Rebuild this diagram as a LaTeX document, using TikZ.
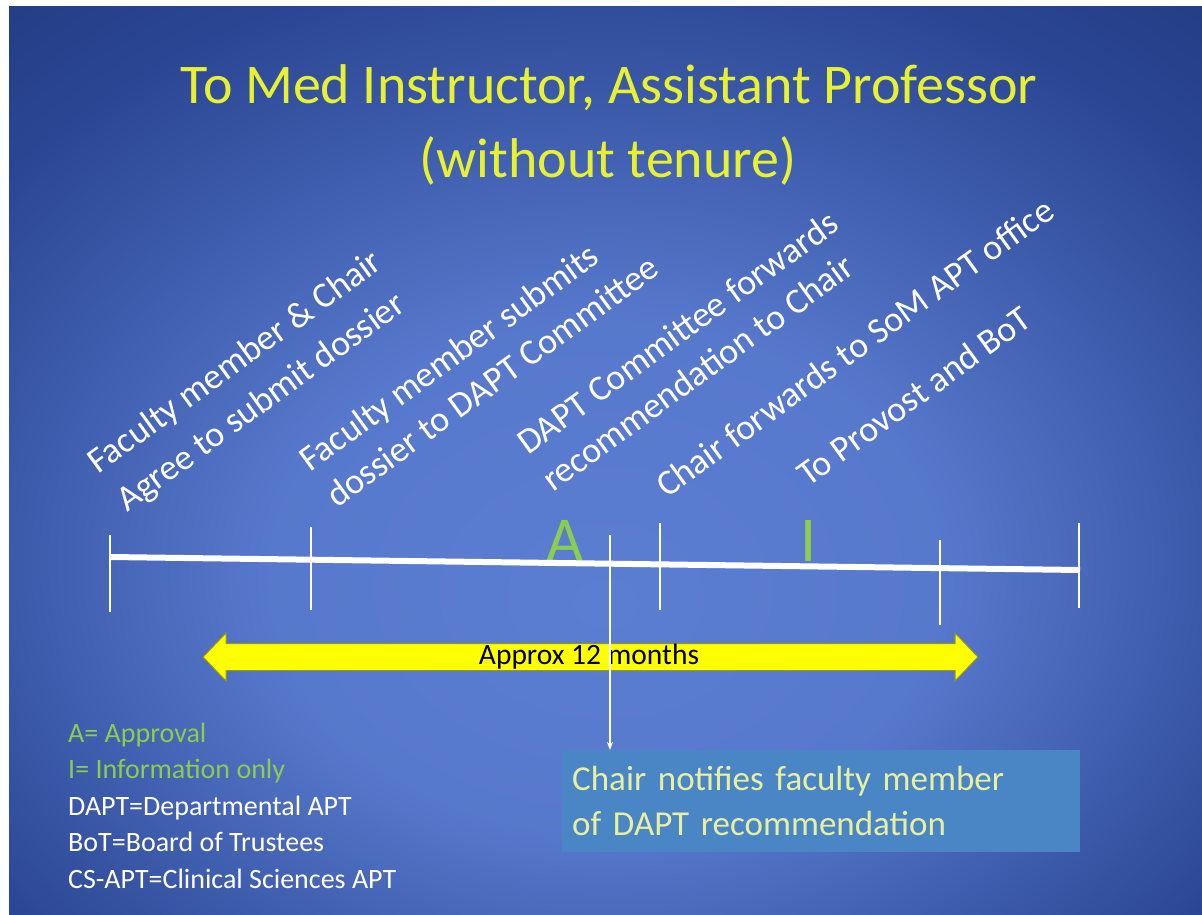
\documentclass[tikz,border=0pt]{standalone}
\usepackage{fontspec}
\setmainfont{Carlito}
\usetikzlibrary{arrows.meta}
\definecolor{bgin}{RGB}{92,126,210}
\definecolor{bgmid}{RGB}{50,80,162}
\definecolor{bgout}{RGB}{14,32,92}
\definecolor{titleyellow}{RGB}{232,240,50}
\definecolor{lgreen}{RGB}{140,205,80}
\definecolor{boxblue}{RGB}{74,134,198}
\definecolor{boxtext}{RGB}{232,240,160}
\definecolor{arrowyellow}{RGB}{255,255,0}
\definecolor{arrowedge}{RGB}{150,150,30}
\pgfdeclareradialshading{slidebg}{\pgfpoint{0bp}{-8bp}}{color(0bp)=(bgin); color(14bp)=(bgin!88!bgmid); color(32bp)=(bgmid!80!bgout); color(50bp)=(bgout!75!bgmid); color(72bp)=(bgout)}
\begin{document}
\begin{tikzpicture}[x=1pt,y=-1pt,
  lbl/.style={text=white, font=\fontsize{36}{43}\selectfont, rotate=36, anchor=base west, inner sep=0pt},
  tickline/.style={draw=white, line width=1.5pt},
  legend/.style={anchor=base west, inner sep=0pt, font=\fontsize{28}{33}\selectfont},
  bigletter/.style={text=lgreen, anchor=base, inner sep=0pt, font=\fontsize{64}{70}\selectfont},
  titletext/.style={text=titleyellow, font=\fontsize{56}{66}\selectfont, anchor=base, inner sep=0pt},
]
\useasboundingbox (0,0) rectangle (1202,915);
\fill[white] (0,0) rectangle (1202,915);
\shade[shading=slidebg] (9,7) rectangle (1202,915);

% title
\node[titletext] (title1) at (609,104) {To Med Instructor, Assistant Professor};
\node[titletext] (title2) at (608,177) {(without tenure)};

% rotated step labels
\node[lbl] (s1a) at (98,475) {Faculty member \& Chair};
\node[lbl] (s1b) at (127,513) {Agree to submit dossier};
\node[lbl] (s2a) at (310,473) {Faculty member submits};
\node[lbl] (s2b) at (337,509) {dossier to DAPT Committee};
\node[lbl] (s3a) at (528,456) {DAPT Committee forwards};
\node[lbl] (s3b) at (553,493) {recommendation  to Chair};
\node[lbl] (s4) at (667,499) {Chair forwards  to SoM APT office};
\node[lbl] (s5) at (808,488) {To Provost and BoT};

% A and I markers
\node[bigletter] (la) at (565,561) {A};
\node[bigletter] (li) at (809,561) {I};

% timeline
\coordinate (tlL) at (110,557);
\coordinate (tlR) at (1080,570);
\draw[white, line width=6pt] (tlL) -- (tlR);

\coordinate (t1a) at (110,535); \coordinate (t1b) at (110,612);
\coordinate (t2a) at (311,527); \coordinate (t2b) at (311,610);
\coordinate (t4a) at (660,523); \coordinate (t4b) at (660,610);
\coordinate (t5a) at (940,540); \coordinate (t5b) at (940,625);
\coordinate (t6a) at (1079,523); \coordinate (t6b) at (1079,608);
\draw[tickline] (t1a) -- (t1b);
\draw[tickline] (t2a) -- (t2b);
\draw[tickline] (t4a) -- (t4b);
\draw[tickline] (t5a) -- (t5b);
\draw[tickline] (t6a) -- (t6b);

% duration arrow
\fill[arrowyellow, draw=arrowedge, line width=1pt] (203,657) -- (226,633) -- (226,643.5) -- (955,643.5) -- (955,633) -- (978,657) -- (955,681) -- (955,670.5) -- (226,670.5) -- (226,681) -- cycle;
\node[font=\fontsize{29.5}{34}\selectfont, text=black, inner sep=0pt] (dur) at (589,657) {Approx 12 months};

% notification box
\node[fill=boxblue, anchor=north west, minimum width=518pt, minimum height=102pt, text width=498pt, inner xsep=10pt, align=left, text=boxtext, font=\fontsize{35}{45}\selectfont] (box) at (562,750) {Chair notifies faculty member\\of DAPT recommendation};

\coordinate (drop) at (610,535);
\draw[white, line width=1.2pt, -{Stealth[length=8pt,width=6pt]}] (drop) -- (drop |- box.north);

% legend
\node[legend, text=lgreen] (g1) at (68,742) {A= Approval};
\node[legend, text=lgreen] (g2) at (68,778) {I= Information only};
\node[legend, text=white] (g3) at (68,815) {DAPT=Departmental APT};
\node[legend, text=white] (g4) at (68,851) {BoT=Board of Trustees};
\node[legend, text=white] (g5) at (68,888) {CS-APT=Clinical Sciences APT};
\end{tikzpicture}
\end{document}
